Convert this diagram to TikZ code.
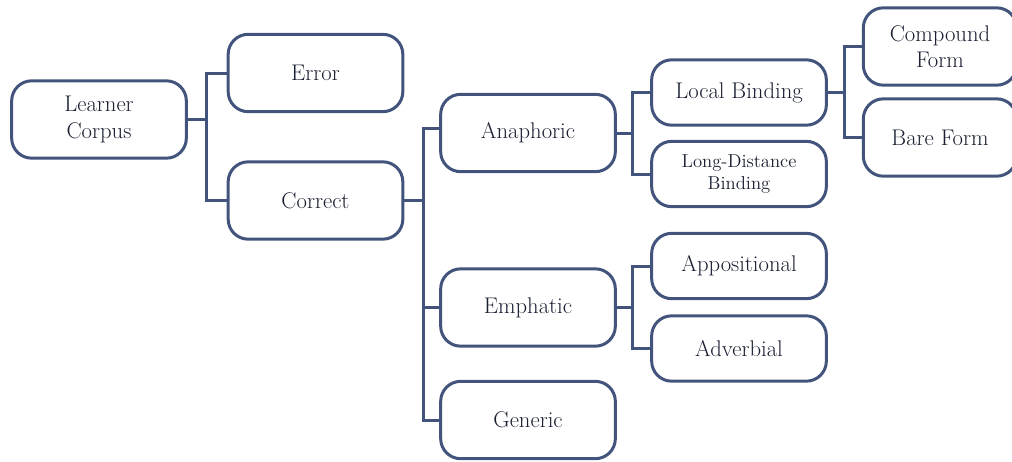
\documentclass[tikz,border=0pt]{standalone}
\usepackage{fontspec}
\setmainfont{Latin Modern Roman}
\definecolor{boxline}{RGB}{66,84,124}
\definecolor{boxtext}{RGB}{26,32,50}
\begin{document}
\begin{tikzpicture}[x=0.75pt,y=-0.75pt,
  box/.style={draw=boxline,line width=2.25pt,rounded corners=15pt,fill=white,
    text=boxtext,align=center,font=\rmfamily\fontsize{17}{20}\selectfont,inner sep=2pt},
  wbig/.style={minimum width=131pt,minimum height=58pt},
  wsmall/.style={minimum width=131pt,minimum height=49pt},
  conn/.style={draw=boxline,line width=2.25pt}]
\useasboundingbox (0,0) rectangle (1012,461);
\clip (0,0) rectangle (1012,461);
\node[box,wbig] (lc) at (99,119.5) {Learner\\Corpus};
\node[box,wbig] (err) at (315.5,73) {Error};
\node[box,wbig] (cor) at (315.5,200.5) {Correct};
\node[box,wbig] (ana) at (528,133) {Anaphoric};
\node[box,wbig] (emp) at (528,307.5) {Emphatic};
\node[box,wbig] (gen) at (528,420) {Generic};
\node[box,wsmall] (loc) at (739,92.5) {Local Binding};
\node[box,wsmall,font=\rmfamily\fontsize{14}{17}\selectfont] (lon) at (739,174) {Long-Distance\\Binding};
\node[box,wsmall] (app) at (739,266) {Appositional};
\node[box,wsmall] (adv) at (739,348.5) {Adverbial};
\node[box,minimum width=115pt,minimum height=58pt] (com) at (940,46.5) {Compound\\Form};
\node[box,minimum width=115pt,minimum height=58pt] (bar) at (940,137.5) {Bare Form};
\coordinate (j1) at (206,119.5);
\coordinate (j2) at (423,200.5);
\coordinate (j3) at (632,133);
\coordinate (j4) at (632,307.5);
\coordinate (j5) at (844,92.5);
\draw[conn] (lc.east) -- (j1);
\draw[conn] (err.west) -| (j1) |- (cor.west);
\draw[conn] (cor.east) -- (j2);
\draw[conn] ([yshift=3.75pt]ana.west) -| (j2) |- (gen.west);
\draw[conn] (j2) |- (emp.west);
\draw[conn] (ana.east) -- (j3);
\draw[conn] (loc.west) -| (j3) |- (lon.west);
\draw[conn] (emp.east) -- (j4);
\draw[conn] (app.west) -| (j4) |- (adv.west);
\draw[conn] (loc.east) -- (j5);
\draw[conn] (com.west) -| (j5) |- (bar.west);
\end{tikzpicture}
\end{document}
